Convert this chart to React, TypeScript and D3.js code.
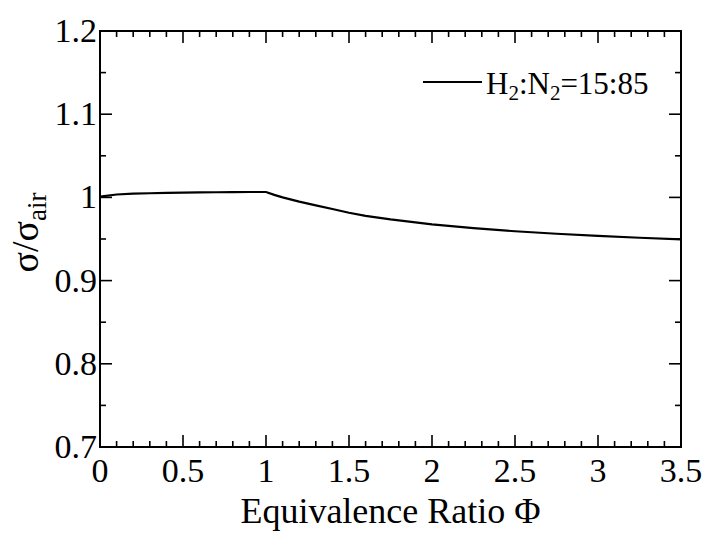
import React from "react";
import * as d3 from "d3";

const phi = [0, 0.1, 0.2, 0.3, 0.4, 0.5, 0.6, 0.7, 0.8, 0.9, 1.0, 1.05, 1.1, 1.2, 1.3, 1.4, 1.5, 1.6, 1.75, 2.0, 2.25, 2.5, 2.75, 3.0, 3.25, 3.5];
const sigmaRatio = [1.001, 1.0035, 1.0045, 1.005, 1.0055, 1.0057, 1.006, 1.0062, 1.0064, 1.0065, 1.0065, 1.003, 1.0, 0.995, 0.9905, 0.986, 0.9815, 0.9778, 0.9735, 0.9675, 0.963, 0.9593, 0.9563, 0.9537, 0.9515, 0.9496];
const xTicks = [0, 0.5, 1, 1.5, 2, 2.5, 3, 3.5];
const xTickLabels = ["0", "0.5", "1", "1.5", "2", "2.5", "3", "3.5"];
const yTicks = [0.7, 0.8, 0.9, 1.0, 1.1, 1.2];
const yTickLabels = ["0.7", "0.8", "0.9", "1", "1.1", "1.2"];

const W = 705, H = 533;
const L = 100, R = 681, T = 31, B = 447;
const FONT = "Liberation Serif, Times New Roman, Times, DejaVu Serif, serif";

export default function App() {
  const x = d3.scaleLinear().domain([0, 3.5]).range([L, R]);
  const y = d3.scaleLinear().domain([0.7, 1.2]).range([B, T]);
  const line = d3.line<number>().x((_, i) => x(phi[i])).y((d) => y(d)).curve(d3.curveLinear);
  const xMinor = d3.range(0, 3.5001, 0.1).filter((v) => Math.abs(v * 2 - Math.round(v * 2)) > 1e-6);
  const yMinor = d3.range(0.75, 1.2, 0.1);
  const maj = 12, min = 6;
  const ts = { fontFamily: FONT };
  return (
    <svg width={W} height={H} style={{ position: "absolute", left: 0, top: 0, background: "#fff", fontFamily: FONT }}>
      <rect x={L} y={T} width={R - L} height={B - T} fill="none" stroke="#000" strokeWidth={2} />
      {xTicks.map((v) => (
        <g key={"xt" + v}>
          <line x1={x(v)} x2={x(v)} y1={B} y2={B - maj} stroke="#000" strokeWidth={1.6} />
          <line x1={x(v)} x2={x(v)} y1={T} y2={T + maj} stroke="#000" strokeWidth={1.6} />
        </g>
      ))}
      {xMinor.map((v) => (
        <g key={"xm" + v}>
          <line x1={x(v)} x2={x(v)} y1={B} y2={B - min} stroke="#000" strokeWidth={1.6} />
          <line x1={x(v)} x2={x(v)} y1={T} y2={T + min} stroke="#000" strokeWidth={1.6} />
        </g>
      ))}
      {yTicks.map((v) => (
        <g key={"yt" + v}>
          <line x1={L} x2={L + maj} y1={y(v)} y2={y(v)} stroke="#000" strokeWidth={1.6} />
          <line x1={R} x2={R - maj} y1={y(v)} y2={y(v)} stroke="#000" strokeWidth={1.6} />
        </g>
      ))}
      {yMinor.map((v) => (
        <g key={"ym" + v}>
          <line x1={L} x2={L + min} y1={y(v)} y2={y(v)} stroke="#000" strokeWidth={1.6} />
          <line x1={R} x2={R - min} y1={y(v)} y2={y(v)} stroke="#000" strokeWidth={1.6} />
        </g>
      ))}
      {xTicks.map((v, i) => (
        <text key={"xl" + v} style={ts} x={x(v)} y={482} textAnchor="middle" fontSize={34} fill="#000">{xTickLabels[i]}</text>
      ))}
      {yTicks.map((v, i) => (
        <text key={"yl" + v} style={ts} x={97} y={y(v) + 11} textAnchor="end" fontSize={34} fill="#000">{yTickLabels[i]}</text>
      ))}
      <text style={ts} x={(L + R) / 2} y={523} textAnchor="middle" fontSize={36} fill="#000">Equivalence Ratio Φ</text>
      <text style={ts} transform={`translate(38, ${(188 + 277) / 2}) rotate(-90)`} textAnchor="middle" fontSize={38} fill="#000">
        σ/σ<tspan fontSize={27} dy={8}>air</tspan>
      </text>
      <path d={line(sigmaRatio) || ""} fill="none" stroke="#000" strokeWidth={2.2} />
      <line x1={423} x2={482} y1={82} y2={82} stroke="#000" strokeWidth={2} />
      <text style={ts} x={486} y={94} fontSize={31} fill="#000">
        H<tspan fontSize={21} dy={6}>2</tspan><tspan dy={-6}>:N</tspan><tspan fontSize={21} dy={6}>2</tspan><tspan dy={-6}>=15:85</tspan>
      </text>
    </svg>
  );
}
